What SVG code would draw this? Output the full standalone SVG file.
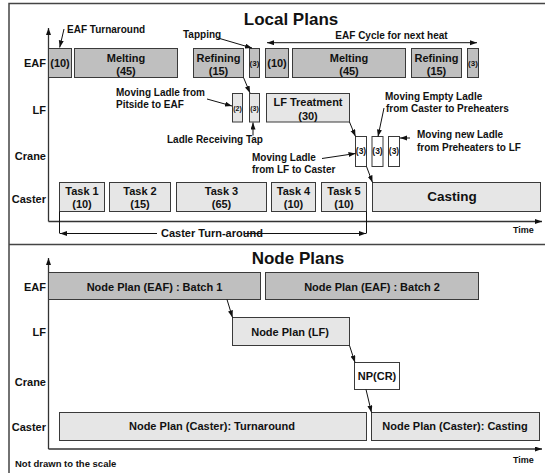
<svg xmlns="http://www.w3.org/2000/svg" width="545" height="473" viewBox="0 0 545 473">
<style>
text{font-family:"Liberation Sans",Arial,sans-serif;font-weight:bold;fill:#111}
.dk{fill:#bfbfbf;stroke:#3a3a3a;stroke-width:1}
.lt{fill:#e6e6e6;stroke:#3a3a3a;stroke-width:1}
.wh{fill:#ffffff;stroke:#3a3a3a;stroke-width:1}
.c{text-anchor:middle}
.r{text-anchor:end}
.b11{font-size:11px}
.b10{font-size:10px}
.s8{font-size:8px}
.s7{font-size:7px}
.ttl{font-size:17px}
.tm{font-size:9px}
.ln{stroke:#111;stroke-width:1;fill:none}
.ax{stroke:#333;stroke-width:1.3;fill:none}
.fr{stroke:#444;stroke-width:1.5;fill:none}
</style>
<defs>
<marker id="ah" markerUnits="userSpaceOnUse" markerWidth="8" markerHeight="6" refX="7" refY="2.5" orient="auto-start-reverse">
<path d="M0,0 L7,2.5 L0,5 z" fill="#111"/>
</marker>
</defs>
<rect width="545" height="473" fill="#fff"/>
<g id="frame">
<path class="fr" d="M545,3.5 H9 V473"/>
<path class="fr" d="M9,244.5 H545"/>
</g>
<g id="titles">
<text class="ttl c" x="291" y="25">Local Plans</text>
<text class="ttl c" x="298" y="264">Node Plans</text>
</g>
<g id="axes">
<path class="ax" d="M48.5,221.5 V28" marker-end="url(#ah)"/>
<path class="ax" d="M48.5,221.5 H542" marker-end="url(#ah)"/>
<path class="ax" d="M48.5,449 V258" marker-end="url(#ah)"/>
<path class="ax" d="M48.5,449 H542" marker-end="url(#ah)"/>
<text class="tm" x="513" y="232.5">Time</text>
<text class="tm" x="513" y="462.5">Time</text>
<text class="s8" x="15" y="467" style="font-size:9.5px">Not drawn to the scale</text>
</g>
<g id="row-labels">
<text class="b11 r" x="46" y="66.5">EAF</text>
<text class="b11 r" x="46" y="114">LF</text>
<text class="b11 r" x="46" y="160">Crane</text>
<text class="b11 r" x="46" y="203">Caster</text>
<text class="b11 r" x="46" y="291">EAF</text>
<text class="b11 r" x="46" y="336">LF</text>
<text class="b11 r" x="46" y="386">Crane</text>
<text class="b11 r" x="46" y="431">Caster</text>
</g>
<g id="eaf-turnaround-1"><rect class="dk" x="48.5" y="48.5" width="23" height="29"/><text class="b11 c" x="60" y="66.5">(10)</text></g>
<g id="eaf-melting-1"><rect class="dk" x="74.5" y="48.5" width="103" height="29"/><text class="b11 c" x="126" y="61.5">Melting<tspan x="126" y="74.5">(45)</tspan></text></g>
<g id="eaf-refining-1"><rect class="dk" x="193.5" y="48.5" width="50" height="29"/><text class="b11 c" x="218.5" y="61.5">Refining<tspan x="218.5" y="74.5">(15)</tspan></text></g>
<g id="eaf-tapping-1"><rect class="dk" x="249.5" y="48.5" width="10" height="29"/><text class="s8 c" x="254.5" y="65.5">(3)</text></g>
<g id="eaf-turnaround-2"><rect class="dk" x="265.5" y="48.5" width="23" height="29"/><text class="b11 c" x="277" y="66.5">(10)</text></g>
<g id="eaf-melting-2"><rect class="dk" x="292.5" y="48.5" width="113" height="29"/><text class="b11 c" x="349" y="61.5">Melting<tspan x="349" y="74.5">(45)</tspan></text></g>
<g id="eaf-refining-2"><rect class="dk" x="411.5" y="48.5" width="50" height="29"/><text class="b11 c" x="436.5" y="61.5">Refining<tspan x="436.5" y="74.5">(15)</tspan></text></g>
<g id="eaf-tapping-2"><rect class="dk" x="467.5" y="48.5" width="11" height="29"/><text class="s8 c" x="473" y="65.5">(3)</text></g>
<g id="lf-move-pitside"><rect class="lt" x="232.5" y="93.5" width="10" height="28.5"/><text class="s7 c" x="237.5" y="110.5">(2)</text></g>
<g id="lf-receive-tap"><rect class="lt" x="249.5" y="93.5" width="10" height="28.5"/><text class="s7 c" x="254.5" y="110.5">(3)</text></g>
<g id="lf-treatment"><rect class="lt" x="266.5" y="93.5" width="83" height="28.5"/><text class="b11 c" x="308" y="105.5">LF Treatment<tspan x="308" y="119.5">(30)</tspan></text></g>
<g id="crane-1"><rect class="wh" x="355.5" y="136.5" width="11" height="30"/><text class="s8 c" x="361" y="154" style="font-size:8.5px">(3)</text></g>
<g id="crane-2"><rect class="wh" x="372" y="136.5" width="11" height="30"/><text class="s8 c" x="377.5" y="154" style="font-size:8.5px">(3)</text></g>
<g id="crane-3"><rect class="wh" x="388.5" y="136.5" width="11" height="30"/><text class="s8 c" x="394" y="154" style="font-size:8.5px">(3)</text></g>
<g id="caster-task1"><rect class="lt" x="59.5" y="182.5" width="45" height="29"/><text class="b11 c" x="82" y="194.5">Task 1<tspan x="82" y="207.5">(10)</tspan></text></g>
<g id="caster-task2"><rect class="lt" x="109.5" y="182.5" width="61" height="29"/><text class="b11 c" x="140" y="194.5">Task 2<tspan x="140" y="207.5">(15)</tspan></text></g>
<g id="caster-task3"><rect class="lt" x="176.5" y="182.5" width="90" height="29"/><text class="b11 c" x="221.5" y="194.5">Task 3<tspan x="221.5" y="207.5">(65)</tspan></text></g>
<g id="caster-task4"><rect class="lt" x="271.5" y="182.5" width="44" height="29"/><text class="b11 c" x="293.5" y="194.5">Task 4<tspan x="293.5" y="207.5">(10)</tspan></text></g>
<g id="caster-task5"><rect class="lt" x="321.5" y="182.5" width="45" height="29"/><text class="b11 c" x="344" y="194.5">Task 5<tspan x="344" y="207.5">(10)</tspan></text></g>
<g id="caster-casting"><rect class="lt" x="372.5" y="182.5" width="168" height="29"/><text class="c" x="452" y="201" style="font-size:13.5px">Casting</text></g>
<g id="np-eaf-1"><rect class="dk" x="48.5" y="272.5" width="212" height="27"/><text class="b11 c" x="154.5" y="290.5">Node Plan (EAF) : Batch 1</text></g>
<g id="np-eaf-2"><rect class="dk" x="265.5" y="272.5" width="213" height="27"/><text class="b11 c" x="372" y="290.5">Node Plan (EAF) : Batch 2</text></g>
<g id="np-lf"><rect class="lt" x="232.5" y="317.5" width="117" height="28"/><text class="b11 c" x="290" y="335.5">Node Plan (LF)</text></g>
<g id="np-cr"><rect class="wh" x="354.5" y="362.5" width="45" height="27"/><text class="b11 c" x="377" y="379.5">NP(CR)</text></g>
<g id="np-caster-turnaround"><rect class="lt" x="59.5" y="412.5" width="307" height="28"/><text class="b11 c" x="212" y="430">Node Plan (Caster): Turnaround</text></g>
<g id="np-caster-casting"><rect class="lt" x="371.5" y="412.5" width="168" height="28"/><text class="b11 c" x="455" y="430">Node Plan (Caster): Casting</text></g>
<g id="annotations">
<text class="b10" x="67" y="33">EAF Turnaround</text>
<text class="b10" x="183" y="38">Tapping</text>
<text class="b10 c" x="391.5" y="39">EAF Cycle for next heat</text>
<text class="b10" x="116" y="95.5">Moving Ladle from<tspan x="116" y="107.5">Pitside to EAF</tspan></text>
<text class="b10" x="167" y="143">Ladle Receiving Tap</text>
<text class="b10" x="385" y="99.5">Moving Empty Ladle<tspan x="386" y="111.5">from Caster to Preheaters</tspan></text>
<text class="b10" x="417" y="138">Moving new Ladle<tspan x="417" y="151">from Preheaters to LF</tspan></text>
<text class="b10" x="252" y="160.5">Moving Ladle<tspan x="252" y="172.5">from LF to Caster</tspan></text>
<text class="b11" x="161" y="237">Caster Turn-around</text>
</g>
<g id="connectors">
<path class="ln" d="M64,29 L59.7,47.5" marker-end="url(#ah)"/>
<path class="ln" d="M218,38 L252,48" marker-end="url(#ah)"/>
<path class="ln" d="M243.5,77.5 L250,93" marker-end="url(#ah)"/>
<path class="ln" d="M207,99 L232,106" marker-end="url(#ah)"/>
<path class="ln" d="M253,135.5 L253,122.5" marker-end="url(#ah)"/>
<path class="ln" d="M349.5,122 L355.5,136.5" marker-end="url(#ah)"/>
<path class="ln" d="M384,108 L378,136.5" marker-end="url(#ah)"/>
<path class="ln" d="M410,138 L400,138" marker-end="url(#ah)"/>
<path class="ln" d="M322,158.5 L355.5,153.5" marker-end="url(#ah)"/>
<path class="ln" d="M366.5,166.5 L372.5,182.5" marker-end="url(#ah)"/>
<path class="ln" d="M267,42.7 L477,42.7" marker-start="url(#ah)" marker-end="url(#ah)"/>
<path class="ln" d="M59.5,211.5 V233.5"/>
<path class="ln" d="M366.5,211.5 V233.5"/>
<path class="ln" d="M157,233.5 H60" marker-end="url(#ah)"/>
<path class="ln" d="M245,233.5 H366" marker-end="url(#ah)"/>
<path class="ln" d="M227,299.5 L232.5,317.5" marker-end="url(#ah)"/>
<path class="ln" d="M349.5,345.5 L355,362.5" marker-end="url(#ah)"/>
<path class="ln" d="M366,389.5 L371.5,412.5" marker-end="url(#ah)"/>
</g>
</svg>
